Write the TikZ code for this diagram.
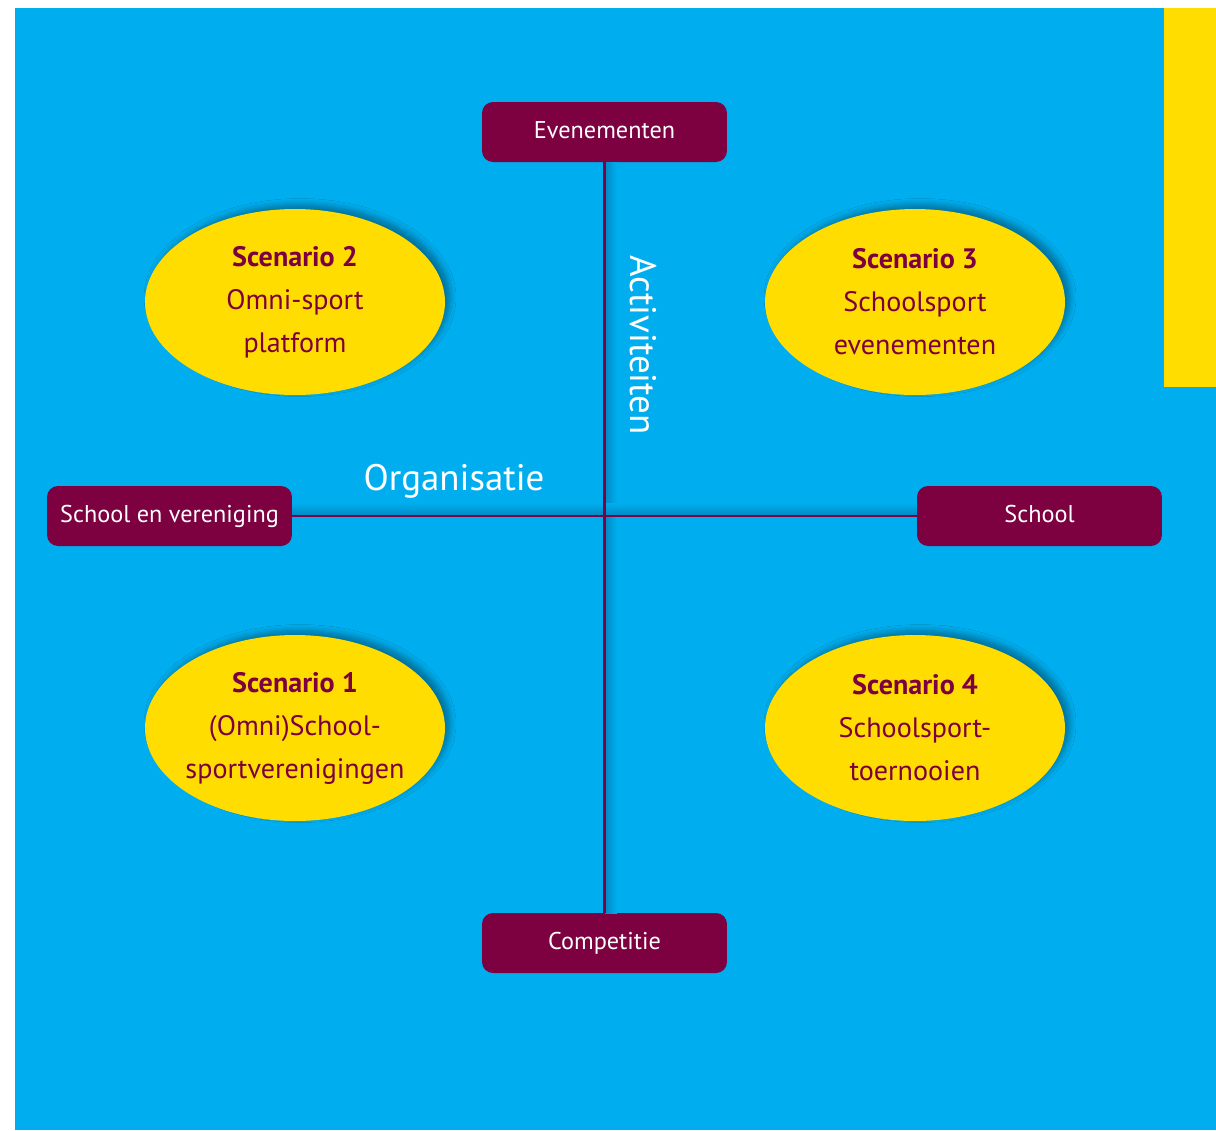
\documentclass[tikz,border=0pt]{standalone}
\usepackage{fontspec}
\setmainfont{PT Sans}
\usetikzlibrary{shapes.geometric,shadows.blur}
\definecolor{bgblue}{RGB}{0,174,239}
\definecolor{shadeblue}{RGB}{0,138,196}
\definecolor{sunyellow}{RGB}{255,221,0}
\definecolor{wine}{RGB}{125,0,64}
\newcommand{\linew}{0.05cm}

\tikzset{
  axisbox/.style={fill=wine, text=white, rounded corners=0.22cm,
    minimum width=4.9cm, minimum height=1.2cm, inner sep=0pt,
    text height=1.8ex, text depth=0.3ex,
    font=\fontsize{13.8}{15}\selectfont},
  scenario/.style={ellipse, fill=sunyellow, inner sep=0pt,
    minimum width=6cm, minimum height=3.72cm,
    blur shadow={shadow xshift=0.1cm, shadow yshift=0.09cm,
      shadow blur steps=6, shadow blur radius=0.12cm, shadow opacity=35}},
  sctext/.style={text=wine, align=center, inner sep=0pt,
    font=\fontsize{16}{24.5}\selectfont},
  axislabel/.style={text=white, inner sep=0pt, font=\fontsize{21}{24}\selectfont},
  axisline/.style={draw=wine, line width=\linew}
}

\begin{document}
\begin{tikzpicture}[x=0.02cm, y=-0.02cm]
\useasboundingbox (0,0) rectangle (1216,1130);
\fill[bgblue] (15,8) rectangle (1216,1130);
\fill[sunyellow] (1164,8) rectangle (1216,387);

% axis boxes
\node[axisbox] (even) at (604.5,132) {Evenementen};
\node[axisbox] (comp) at (604.5,943) {Competitie};
\node[axisbox] (schver) at (169.5,516) {School en vereniging};
\node[axisbox] (school) at (1039.5,516) {School};

% shadows along the axes
\fill[left color=shadeblue, right color=bgblue] (605,162) rectangle (617,913);
\fill[top color=bgblue, bottom color=shadeblue] (292,503) rectangle (917,515);

% axes
\draw[axisline] (even) -- (comp);
\draw[axisline] (schver) -- (school);

% scenarios
\node[scenario] (sc2) at (295,302) {};
\node[scenario] (sc3) at (915,302) {};
\node[scenario] (sc1) at (295,728) {};
\node[scenario] (sc4) at (915,728) {};
\node[sctext] (sc2t) at (sc2) {\textbf{Scenario 2}\\Omni-sport\\platform};
\node[sctext] (sc3t) at (sc3) {\textbf{Scenario 3}\\Schoolsport\\evenementen};
\node[sctext] (sc1t) at (sc1) {\textbf{Scenario 1}\\(Omni)School-\\sportverenigingen};
\node[sctext] (sc4t) at (sc4) {\textbf{Scenario 4}\\Schoolsport-\\toernooien};

% axis labels
\node[axislabel, rotate=-90] (act) at (643,345) {Activiteiten};
\node[axislabel] (org) at (454,481) {Organisatie};
\end{tikzpicture}
\end{document}
